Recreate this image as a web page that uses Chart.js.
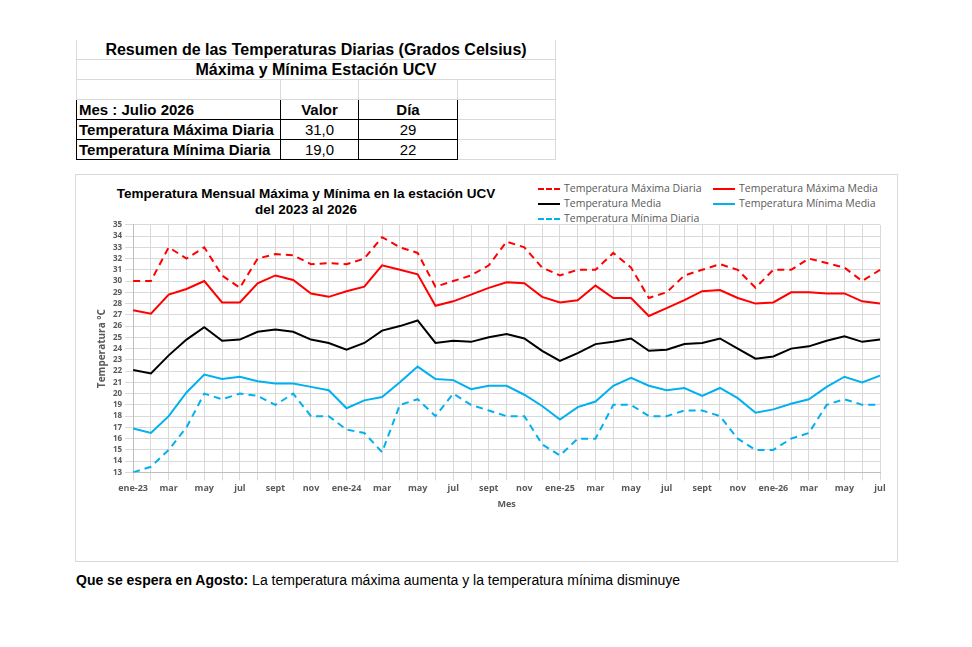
<!DOCTYPE html>
<html><head><meta charset="utf-8">
<script src="https://cdn.jsdelivr.net/npm/chart.js@4"></script>
<style>
body{margin:0;background:#fff;font-family:"Liberation Sans",Arial,sans-serif;width:972px;height:647px;position:relative;overflow:hidden}
table{position:absolute;left:76px;top:40px;border-collapse:collapse;font-size:15px;font-weight:bold;table-layout:fixed;width:479px}
td{height:19px;padding:0 2px;border:1px solid #d9d9d9;white-space:nowrap}
.b td.k{border:1px solid #000}
#box{position:absolute;left:75px;top:174px;width:821px;height:386px;border:1px solid #d9d9d9}
#ttl{position:absolute;left:0;top:11px;width:460px;text-align:center;font-weight:bold;font-size:13.5px;line-height:16px}
#leg{position:absolute;left:462px;top:6px;width:360px;font-family:"Open Sans",sans-serif;font-size:10.5px;color:#595959}
#leg div{position:absolute;white-space:nowrap}
#leg span{display:inline-block;width:22px;height:0;vertical-align:middle;margin-right:4px;border-top-width:2px}
#cv{position:absolute;left:6px;top:42px}
#foot{position:absolute;left:76px;top:572px;font-size:14px}
</style></head><body>
<table>
<colgroup><col style="width:204px"><col style="width:78px"><col style="width:99px"><col style="width:98px"></colgroup>
<tr><td colspan="4" style="text-align:center;font-size:16px;border-top:none">Resumen de las Temperaturas Diarias (Grados Celsius)</td></tr>
<tr><td colspan="4" style="text-align:center;font-size:16px">Máxima y Mínima Estación UCV</td></tr>
<tr><td></td><td></td><td></td><td></td></tr>
<tr class="b"><td class="k" style="border-left:1px solid #000">Mes : Julio 2026</td><td class="k" style="text-align:center">Valor</td><td class="k" style="text-align:center">Día</td><td></td></tr>
<tr class="b"><td class="k">Temperatura Máxima Diaria</td><td class="k" style="text-align:center;font-weight:normal">31,0</td><td class="k" style="text-align:center;font-weight:normal">29</td><td></td></tr>
<tr class="b"><td class="k">Temperatura Mínima Diaria</td><td class="k" style="text-align:center;font-weight:normal">19,0</td><td class="k" style="text-align:center;font-weight:normal">22</td><td></td></tr>
</table>
<div id="box">
<div id="ttl">Temperatura Mensual Máxima y Mínima en la estación UCV<br>del 2023 al 2026</div>
<div id="leg">
<div style="left:0;top:0"><span style="border-top:2px dashed #ff0000"></span>Temperatura Máxima Diaria</div>
<div style="left:175px;top:0"><span style="border-top:2px solid #ff0000"></span>Temperatura Máxima Media</div>
<div style="left:0;top:15px"><span style="border-top:2px solid #000"></span>Temperatura Media</div>
<div style="left:175px;top:15px"><span style="border-top:2px solid #00b0f0"></span>Temperatura Mínima Media</div>
<div style="left:0;top:30px"><span style="border-top:2px dashed #00b0f0"></span>Temperatura Mínima Diaria</div>
</div>
<canvas id="cv" width="812" height="295"></canvas>
</div>
<div id="foot"><b>Que se espera en Agosto:</b> La temperatura máxima aumenta y la temperatura mínima disminuye</div>
<script>
const months=["ene","feb","mar","abr","may","jun","jul","ago","sept","oct","nov","dic"];
const labels=[];
for(let y=23;y<=26;y++){for(let m=0;m<12;m++){if(y===26&&m>6)break;labels.push(m===0?"ene-"+y:months[m]);}}
const maxDiaria=[30,30,33,32,33,30.5,29.4,32,32.4,32.3,31.5,31.6,31.5,32,33.9,33,32.5,29.5,30,30.5,31.4,33.5,33,31.2,30.5,31,31,32.5,31.2,28.5,29,30.5,31,31.5,31,29.4,31,31,32,31.6,31.2,30,31];
const maxMedia=[27.4,27.1,28.8,29.3,30,28.1,28.1,29.8,30.5,30.1,28.9,28.6,29.1,29.5,31.4,31,30.6,27.8,28.2,28.8,29.4,29.9,29.8,28.6,28.1,28.3,29.6,28.5,28.5,26.9,27.6,28.3,29.1,29.2,28.5,28,28.1,29,29,28.9,28.9,28.2,28];
const media=[22.1,21.8,23.4,24.8,25.9,24.7,24.8,25.5,25.7,25.5,24.8,24.5,23.9,24.5,25.6,26,26.5,24.5,24.7,24.6,25,25.3,24.9,23.8,22.9,23.6,24.4,24.6,24.9,23.8,23.9,24.4,24.5,24.9,24,23.1,23.3,24,24.2,24.7,25.1,24.6,24.8];
const minMedia=[16.9,16.5,18,20.1,21.7,21.3,21.5,21.1,20.9,20.9,20.6,20.3,18.7,19.4,19.7,21,22.4,21.3,21.2,20.4,20.7,20.7,19.9,18.9,17.7,18.8,19.3,20.7,21.4,20.7,20.3,20.5,19.8,20.5,19.6,18.3,18.6,19.1,19.5,20.6,21.5,21,21.6];
const minDiaria=[13,13.5,15,17,20,19.5,20,19.8,19,20,18,18,16.8,16.5,14.8,19,19.5,18,20,19,18.5,18,18,15.5,14.5,16,16,19,19,18,18,18.5,18.5,18,16,15,15,16,16.5,19,19.5,19,19];
const ds=(l,d,c,dash)=>({label:l,data:d,borderColor:c,borderWidth:2,borderDash:dash?[7,5]:[],pointRadius:0,tension:0,fill:false});
new Chart(document.getElementById('cv'),{type:'line',
data:{labels,datasets:[ds('Temperatura Máxima Diaria',maxDiaria,'#ff0000',1),ds('Temperatura Máxima Media',maxMedia,'#ff0000'),ds('Temperatura Media',media,'#000000'),ds('Temperatura Mínima Media',minMedia,'#00b0f0'),ds('Temperatura Mínima Diaria',minDiaria,'#00b0f0',1)]},
options:{responsive:false,animation:false,layout:{padding:{left:12,right:14,top:4}},
plugins:{legend:{display:false},tooltip:{enabled:false}},
scales:{
x:{offset:false,grid:{color:'#d9d9d9'},border:{color:'#bfbfbf'},title:{display:true,text:'Mes',font:{size:9,weight:'bold',family:'Open Sans'},color:'#595959',padding:2},
ticks:{autoSkip:false,maxRotation:0,font:{size:9,weight:'bold',family:'Open Sans'},color:'#595959',callback:(v,i)=>i%2===0?labels[i]:''}},
y:{min:13,max:35,grid:{color:'#d9d9d9'},border:{color:'#bfbfbf'},title:{display:true,text:'Temperatura °C',font:{size:10,weight:'bold',family:'Open Sans'},color:'#595959',padding:2},
ticks:{stepSize:1,autoSkip:false,font:{size:8,weight:'bold',family:'Open Sans'},color:'#595959'}}}}});
</script>
</body></html>
